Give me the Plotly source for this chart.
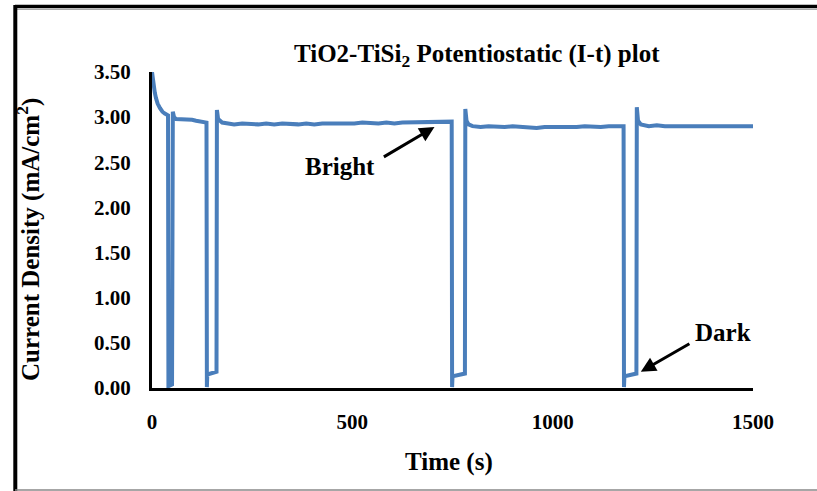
import plotly.graph_objects as go

# ---- data ----
time_s = [0, 2, 4, 7, 10, 14, 20, 26, 32, 38, 40,
          41, 50, 52, 55, 60, 70, 80, 90, 100, 110, 120, 130, 136,
          137, 138, 161, 162, 165, 175, 190, 205, 225, 245, 265, 285, 305, 325, 345,
          365, 385, 405, 425, 445, 465, 485, 505, 525, 545, 565, 585, 605, 625, 645,
          665, 685, 705, 725, 745, 748,
          749, 750, 781, 782, 785, 790, 800, 820, 840, 860, 880, 900, 920, 940, 960,
          980, 1000, 1020, 1040, 1060, 1080, 1100, 1120, 1140, 1160, 1177,
          1178, 1179, 1209, 1210, 1213, 1220, 1240, 1260, 1280, 1300, 1320, 1340,
          1360, 1380, 1400, 1420, 1440, 1460, 1480, 1500]
current = [3.50, 3.42, 3.35, 3.27, 3.21, 3.15, 3.10, 3.06, 3.04, 3.02, 3.02,
           0.02, 0.04, 3.06, 3.00, 2.98, 2.98, 2.97, 2.97, 2.97, 2.96, 2.95, 2.95, 2.94,
           0.01, 0.15, 0.18, 3.08, 2.98, 2.94, 2.93, 2.92, 2.93, 2.92, 2.92, 2.93, 2.92, 2.93, 2.92,
           2.92, 2.93, 2.92, 2.93, 2.93, 2.92, 2.93, 2.93, 2.94, 2.93, 2.93, 2.94, 2.93, 2.94, 2.94,
           2.94, 2.95, 2.94, 2.95, 2.94, 2.95,
           0.01, 0.13, 0.16, 3.09, 2.96, 2.92, 2.90, 2.89, 2.90, 2.89, 2.89, 2.90, 2.89, 2.89, 2.88,
           2.89, 2.89, 2.88, 2.89, 2.89, 2.90, 2.89, 2.89, 2.90, 2.90, 2.90,
           0.01, 0.13, 0.16, 3.11, 2.96, 2.92, 2.90, 2.91, 2.90, 2.90, 2.91, 2.90,
           2.90, 2.91, 2.90, 2.90, 2.91, 2.90, 2.90, 2.90]

x_ticks = [0, 500, 1000, 1500]
y_ticks = [0.0, 0.5, 1.0, 1.5, 2.0, 2.5, 3.0, 3.5]

title_text = "TiO2-TiSi<sub>2</sub> Potentiostatic (I-t) plot"
x_title = "Time (s)"
y_title = "Current Density (mA/cm<sup>2</sup>)"

FONT = "Liberation Serif"
W, H = 817, 491
L, R, T, B = 152, 64, 72, 103
pw, ph = W - L - R, H - T - B


def px(xp):
    return (xp - L) / pw


def py(yp):
    return (H - B - yp) / ph


fig = go.Figure()
fig.add_trace(go.Scatter(x=time_s, y=current, mode="lines",
                         line=dict(color="#4A7EBB", width=4), showlegend=False))

fig.update_layout(
    width=W, height=H,
    margin=dict(l=L, r=R, t=T, b=B),
    paper_bgcolor="white", plot_bgcolor="white",
    font=dict(family=FONT, color="black"),
    xaxis=dict(range=[0, 1500], tickvals=x_ticks, ticktext=[str(v) for v in x_ticks],
               showgrid=False, zeroline=False, showline=True, linecolor="black",
               linewidth=3, ticks="", ticklabelstandoff=13,
               tickfont=dict(family=FONT, size=21, color="black", weight="bold")),
    yaxis=dict(range=[0, 3.5], tickvals=y_ticks, ticktext=[f"{v:.2f}" for v in y_ticks],
               showgrid=False, zeroline=False, showline=True, linecolor="black",
               linewidth=3, ticks="", ticklabelstandoff=14,
               tickfont=dict(family=FONT, size=21, color="black", weight="bold")),
)

bold = dict(family=FONT, size=25, color="black", weight="bold")
fig.add_annotation(text=title_text, xref="paper", yref="paper", x=px(477), y=py(56),
                   xanchor="center", yanchor="middle", showarrow=False, font=bold)
fig.add_annotation(text=x_title, xref="paper", yref="paper", x=px(449), y=py(462),
                   xanchor="center", yanchor="middle", showarrow=False, font=bold)
fig.add_annotation(text=y_title, xref="paper", yref="paper", x=px(29), y=py(239),
                   xanchor="center", yanchor="middle", showarrow=False, textangle=-90,
                   font=bold)

# text labels
fig.add_annotation(text="Bright", x=470, y=2.45, xref="x", yref="y", showarrow=False,
                   font=bold)
fig.add_annotation(text="Dark", x=1425, y=0.62, xref="x", yref="y", showarrow=False,
                   font=bold)
# arrows
fig.add_annotation(text="", x=705, y=2.89, ax=575, ay=2.55, xref="x", yref="y",
                   axref="x", ayref="y", showarrow=True, arrowhead=2, arrowsize=1,
                   arrowwidth=3, arrowcolor="black")
fig.add_annotation(text="", x=1220, y=0.18, ax=1345, ay=0.50, xref="x", yref="y",
                   axref="x", ayref="y", showarrow=True, arrowhead=2, arrowsize=1,
                   arrowwidth=3, arrowcolor="black")

# outer frame
fig.add_shape(type="line", xref="paper", yref="paper", x0=px(15), x1=px(830),
              y0=py(6.5), y1=py(6.5), line=dict(color="black", width=3.5))
fig.add_shape(type="line", xref="paper", yref="paper", x0=px(15), x1=px(830),
              y0=py(9.5), y1=py(9.5), line=dict(color="#aaaaaa", width=1))
fig.add_shape(type="line", xref="paper", yref="paper", x0=px(15.3), x1=px(15.3),
              y0=py(5), y1=py(495), line=dict(color="black", width=4))
fig.add_shape(type="line", xref="paper", yref="paper", x0=px(15), x1=px(830),
              y0=py(490), y1=py(490), line=dict(color="#888888", width=1.5))

fig.write_html("out.html")
